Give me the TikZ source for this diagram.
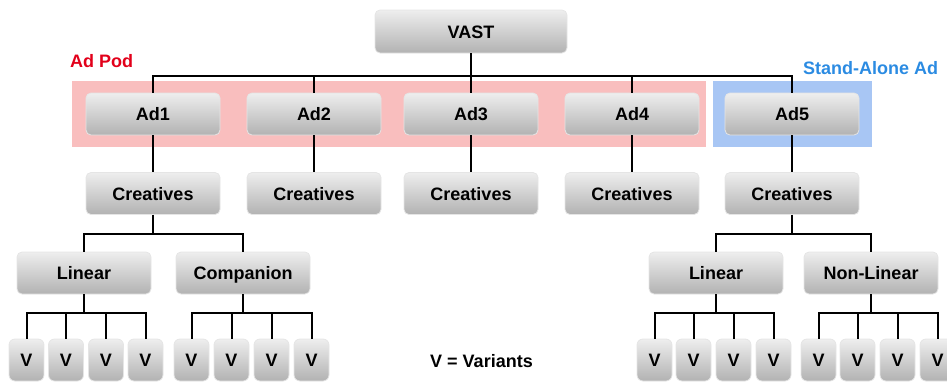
\documentclass[tikz,border=0pt]{standalone}
\usepackage{fontspec}
\setmainfont{Liberation Sans}
\usetikzlibrary{positioning}
\definecolor{podpink}{HTML}{F9BEBE}
\definecolor{soloblue}{HTML}{A8C6F4}
\definecolor{podred}{HTML}{E2001A}
\definecolor{solotext}{HTML}{2B8BE2}
\definecolor{boxtop}{HTML}{EEEEEE}
\definecolor{boxbot}{HTML}{B2B2B2}

\begin{document}
\begin{tikzpicture}[x=1pt,y=-1pt,
  box/.style={rectangle,rounded corners=5pt,top color=boxtop,bottom color=boxbot,
    draw=white!80!gray,line width=0.8pt,font=\fontsize{18}{20}\selectfont\bfseries,
    text height=13pt,text depth=0pt,inner sep=0pt,minimum width=134pt,minimum height=42pt},
  vbox/.style={box,rounded corners=6pt,minimum width=35pt,minimum height=42pt},
  label/.style={anchor=west,inner sep=0pt,font=\fontsize{18}{20}\selectfont\bfseries},
  link/.style={draw=black,line width=2pt},
  tofork/.style={to path={|- (\tikztotarget |- #1) -- (\tikztotarget)}}]
 \useasboundingbox (0,0) rectangle (947,381);
 \clip (0,0) rectangle (947,381);

 % groups
 \fill[podpink] (72,81) rectangle (706,147);
 \fill[soloblue] (713,81) rectangle (872,147);
 \node[label,text=podred] (podlabel) at (70,61) {Ad Pod};
 \node[label,text=solotext] (sololabel) at (803,68) {Stand-Alone Ad};

 \coordinate (adbar) at (0,76);
 \coordinate (crbar) at (0,234);
 \coordinate (vbar) at (0,313);

 \node[box,minimum width=192pt,minimum height=43pt] (vast) at (471,31.5) {VAST};
 \node[box] (ad1) at (153,114) {Ad1};
 \node[box] (ad2) at (314,114) {Ad2};
 \node[box] (ad3) at (471,114) {Ad3};
 \node[box] (ad4) at (632,114) {Ad4};
 \node[box] (ad5) at (792,114) {Ad5};
 \node[box] (cr1) at (153,193.5) {Creatives};
 \node[box] (cr2) at (314,193.5) {Creatives};
 \node[box] (cr3) at (471,193.5) {Creatives};
 \node[box] (cr4) at (632,193.5) {Creatives};
 \node[box] (cr5) at (792,193.5) {Creatives};
 \node[box] (lin1) at (84,273) {Linear};
 \node[box] (comp) at (243,273) {Companion};
 \node[box] (lin2) at (716,273) {Linear};
 \node[box] (nonlin) at (871,273) {Non-Linear};

 \node[vbox] (v1) at (26.5,360) {V};
 \node[vbox] (v2) at (66,360) {V};
 \node[vbox] (v3) at (106,360) {V};
 \node[vbox] (v4) at (145.5,360) {V};
 \node[vbox] (v5) at (191.5,360) {V};
 \node[vbox] (v6) at (231.5,360) {V};
 \node[vbox] (v7) at (271.5,360) {V};
 \node[vbox] (v8) at (311.5,360) {V};
 \node[vbox] (v9) at (654.5,360) {V};
 \node[vbox] (v10) at (693.5,360) {V};
 \node[vbox] (v11) at (733.5,360) {V};
 \node[vbox] (v12) at (773.5,360) {V};
 \node[vbox] (v13) at (818.5,360) {V};
 \node[vbox] (v14) at (857.5,360) {V};
 \node[vbox] (v15) at (897.5,360) {V};
 \node[vbox] (v16) at (937.5,360) {V};

 \node[label] (legend) at (430,361) {V = Variants};

 \draw[link]
 (vast.south) edge[tofork=adbar] (ad1.north)
 (vast.south) edge[tofork=adbar] (ad2.north)
 (vast.south) edge[tofork=adbar] (ad3.north)
 (vast.south) edge[tofork=adbar] (ad4.north)
 (vast.south) edge[tofork=adbar] (ad5.north)
 (ad1) edge (cr1)
 (ad2) edge (cr2)
 (ad3) edge (cr3)
 (ad4) edge (cr4)
 (ad5) edge (cr5)
 (cr1.south) edge[tofork=crbar] (lin1.north)
 (cr1.south) edge[tofork=crbar] (comp.north)
 (cr5.south) edge[tofork=crbar] (lin2.north)
 (cr5.south) edge[tofork=crbar] (nonlin.north)
 (lin1.south) edge[tofork=vbar] (v1.north)
 (lin1.south) edge[tofork=vbar] (v2.north)
 (lin1.south) edge[tofork=vbar] (v3.north)
 (lin1.south) edge[tofork=vbar] (v4.north)
 (comp.south) edge[tofork=vbar] (v5.north)
 (comp.south) edge[tofork=vbar] (v6.north)
 (comp.south) edge[tofork=vbar] (v7.north)
 (comp.south) edge[tofork=vbar] (v8.north)
 (lin2.south) edge[tofork=vbar] (v9.north)
 (lin2.south) edge[tofork=vbar] (v10.north)
 (lin2.south) edge[tofork=vbar] (v11.north)
 (lin2.south) edge[tofork=vbar] (v12.north)
 (nonlin.south) edge[tofork=vbar] (v13.north)
 (nonlin.south) edge[tofork=vbar] (v14.north)
 (nonlin.south) edge[tofork=vbar] (v15.north)
 (nonlin.south) edge[tofork=vbar] (v16.north);
\end{tikzpicture}
\end{document}
